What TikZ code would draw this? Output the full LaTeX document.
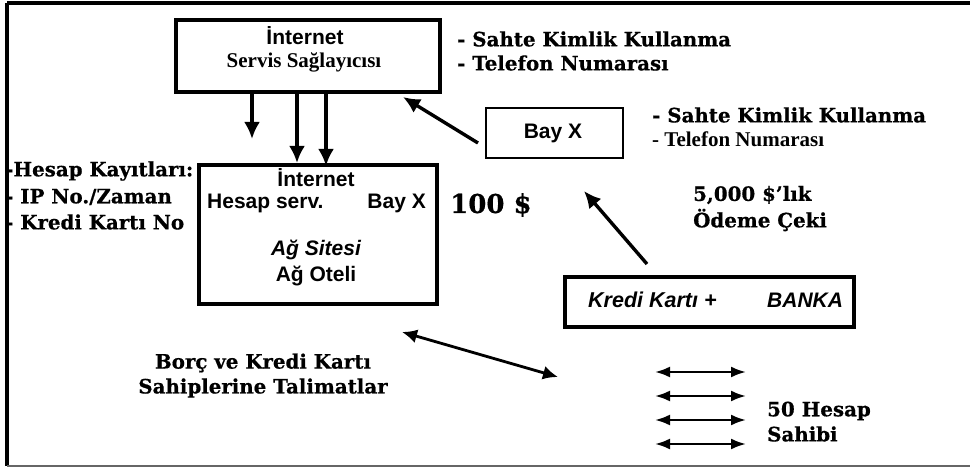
\documentclass[tikz,border=0pt]{standalone}
\usepackage{fontspec}
\setmainfont{Liberation Serif}
\setsansfont{Liberation Sans}
\newfontfamily\slab{DejaVu Serif}[BoldFeatures={FakeBold=0.6}]
\usetikzlibrary{arrows.meta}
\tikzset{
  thickbox/.style={draw, line width=3.6pt},
  thinbox/.style={draw, line width=2pt},
  arr/.style={line width=3.4pt, -{Latex[length=17pt,width=16pt]}},
  darr/.style={line width=2.8pt, {Latex[length=15pt,width=14pt]}-{Latex[length=15pt,width=14pt]}},
  sarr/.style={line width=2.4pt, {Latex[length=15pt,width=11pt]}-{Latex[length=15pt,width=11pt]}},
  slabtxt/.style={font=\slab\bfseries\fontsize{19.8}{23}\selectfont, inner sep=0pt},
  sanstxt/.style={font=\sffamily\bfseries\fontsize{21}{25}\selectfont, inner sep=0pt},
  timestxt/.style={font=\rmfamily\bfseries\fontsize{21}{25}\selectfont, inner sep=0pt},
}
\begin{document}
\begin{tikzpicture}[x=1pt,y=-1pt]
\useasboundingbox (0,0) rectangle (970,468);
\fill[white] (0,0) rectangle (970,468);
% frame
\draw[line width=3.4pt] (7,3) -- (970,3);
\draw[line width=3.4pt] (7,3) -- (7,466);
\draw[line width=1.2pt, black!60] (7,466) -- (970,466);
% ISP box
\node[thickbox, minimum width=264pt, minimum height=72pt, anchor=north west] (isp) at (174,18) {};
\node[sanstxt] (ispa) at (305,36) {İnternet};
\node[timestxt] (ispb) at (304,62) {Servis Sağlayıcısı};
\node[slabtxt, anchor=west] (t1) at (457,39) {-\ Sahte Kimlik Kullanma};
\node[slabtxt, anchor=west] (t2) at (457,63) {- Telefon Numarası};
% Bay X box
\node[thinbox, minimum width=137pt, minimum height=50pt, anchor=north west] (bayx) at (485,107) {};
\node[sanstxt] (bayxt) at (553,133) {Bay X};
\node[slabtxt, anchor=west] (t3) at (652,115) {- Sahte Kimlik Kullanma};
\node[timestxt, anchor=west] (t4) at (652,139) {- Telefon Numarası};
% website box
\node[thickbox, minimum width=238pt, minimum height=139pt, anchor=north west] (site) at (197,163) {};
\node[sanstxt] (sitea) at (316,178) {İnternet};
\node[sanstxt, anchor=west] (siteb) at (207,203) {Hesap serv.};
\node[sanstxt, anchor=east] (sitec) at (426,203) {Bay X};
\node[font=\sffamily\bfseries\itshape\fontsize{21}{25}\selectfont, inner sep=0pt] (sited) at (316,250) {Ağ Sitesi};
\node[sanstxt] (sitee) at (316,276) {Ağ Oteli};
% left labels
\node[slabtxt, anchor=west] (l1) at (5,171) {-Hesap Kayıtları:};
\node[slabtxt, anchor=west] (l2) at (5,197) {-\ IP No./Zaman};
\node[slabtxt, anchor=west] (l3) at (5,222) {-\ Kredi Kartı No};
% 100 $
\node[font=\slab\bfseries\fontsize{26}{30}\selectfont, inner sep=0pt, anchor=west] (hundred) at (450,205) {100 \$};
% 5000
\node[slabtxt, anchor=west] (c1) at (693,195) {5,000 \$’lık};
\node[slabtxt, anchor=west] (c2) at (693,220) {Ödeme Çeki};
% bank box
\node[thickbox, minimum width=289pt, minimum height=50pt, anchor=north west] (bank) at (563,275) {};
\node[font=\sffamily\itshape\bfseries\fontsize{21.5}{25}\selectfont, inner sep=0pt, anchor=west] (banka) at (588,300) {Kredi Kartı +};
\node[font=\sffamily\itshape\bfseries\fontsize{21}{25}\selectfont, inner sep=0pt, anchor=west] (bankb) at (767,300) {BANKA};
% instructions
\node[slabtxt] (i1) at (263,363) {Borç ve Kredi Kartı};
\node[slabtxt] (i2) at (263,388) {Sahiplerine Talimatlar};
% 50 hesap
\node[slabtxt, anchor=west] (h1) at (767,411) {50 Hesap};
\node[slabtxt, anchor=west] (h2) at (767,434) {Sahibi};
% coordinates for arrows
\coordinate (d1s) at (252,92); \coordinate (d1e) at (252,139);
\coordinate (d2s) at (297,92); \coordinate (d2e) at (297,163);
\coordinate (d3s) at (326,92); \coordinate (d3e) at (326,166);
\coordinate (bxs) at (478,143); \coordinate (bxe) at (403,97);
\coordinate (bks) at (647,264); \coordinate (bke) at (584,191);
\coordinate (ds) at (402,332); \coordinate (de) at (558,377);
\draw[arr] (d1s) -- (d1e);
\draw[arr] (d2s) -- (d2e);
\draw[arr] (d3s) -- (d3e);
\draw[arr] (bxs) -- (bxe);
\draw[arr] (bks) -- (bke);
\draw[darr] (ds) -- (de);
\foreach \yy/\nm in {372/a,396/b,420/c,444/d}{
  \coordinate (s\nm1) at (655,\yy); \coordinate (s\nm2) at (746,\yy);
  \draw[sarr] (s\nm1) -- (s\nm2);
}
\end{tikzpicture}
\end{document}
